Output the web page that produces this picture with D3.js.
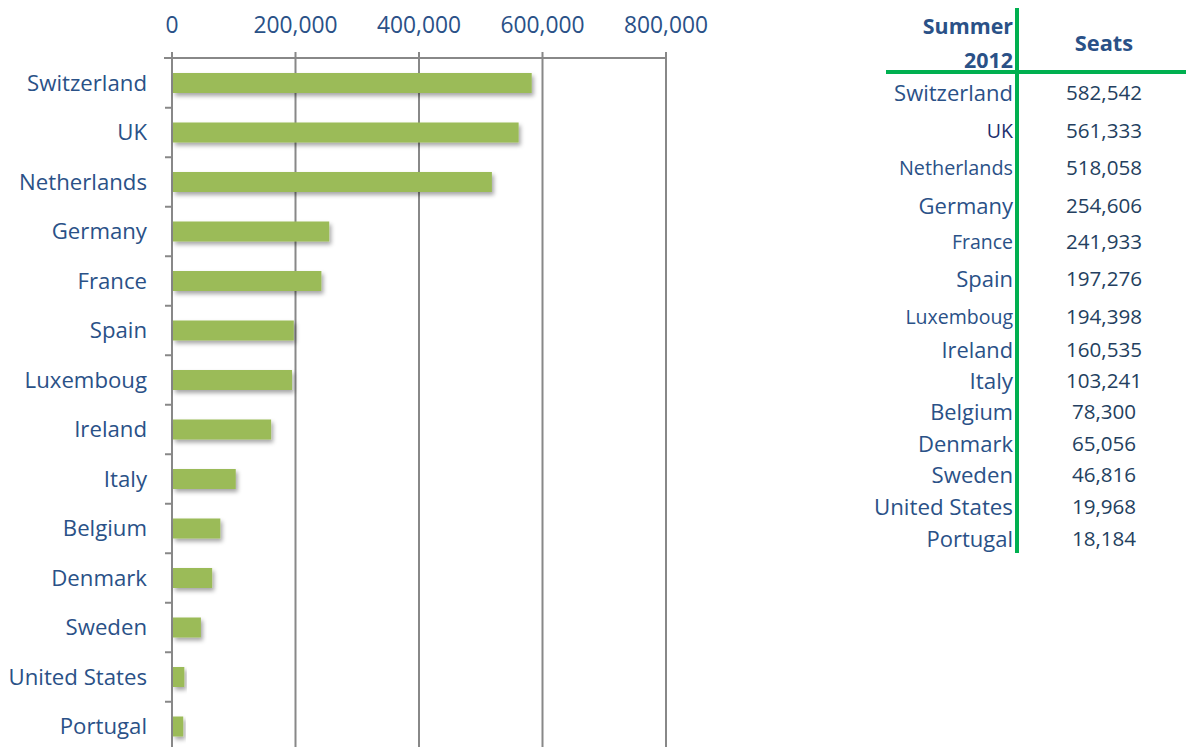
<!DOCTYPE html>
<html><head><meta charset="utf-8">
<script src="https://cdn.jsdelivr.net/npm/d3@7"></script>
<style>body{margin:0;background:#fff}svg{display:block}text{font-family:"Open Sans",sans-serif}</style>
</head><body><svg id="c" width="1186" height="747"></svg>
<script>
const countries = ["Switzerland","UK","Netherlands","Germany","France","Spain","Luxemboug","Ireland","Italy","Belgium","Denmark","Sweden","United States","Portugal"];
const seats = [582542,561333,518058,254606,241933,197276,194398,160535,103241,78300,65056,46816,19968,18184];
const xTicks = [0,200000,400000,600000,800000];
const tableHeader = ["Summer","2012","Seats"];
const tableRowY = [93,131,168,206,242,279,317,350,381,412,444,475,507,539];
const tableNameSize = [22,19.5,19.8,22,19.5,22,19.5,21.8,22.4,21.8,22,22.2,22.3,22];

const svg = d3.select("#c");
const blue = "#2a5187";
const defs = svg.append("defs");
const f = defs.append("filter").attr("id","sh").attr("x","-10%").attr("y","-30%").attr("width","130%").attr("height","190%");
f.append("feDropShadow").attr("dx",2).attr("dy",3).attr("stdDeviation",2).attr("flood-color","#000").attr("flood-opacity",0.35);

const x = d3.scaleLinear().domain([0,800000]).range([172,666]);
const y = d3.scaleBand().domain(countries).range([58.25,58.25+49.5*14]).paddingInner(0).paddingOuter(0);

// gridlines
svg.append("g").selectAll("line").data(xTicks.slice(1)).join("line")
  .attr("x1",d=>x(d)).attr("x2",d=>x(d)).attr("y1",52).attr("y2",747)
  .attr("stroke","#888").attr("stroke-width",2);
// top axis line
svg.append("line").attr("x1",164).attr("x2",x(800000)+1).attr("y1",58).attr("y2",58).attr("stroke","#888").attr("stroke-width",2);
// left axis line
svg.append("line").attr("x1",x(0)).attr("x2",x(0)).attr("y1",52).attr("y2",747).attr("stroke","#888").attr("stroke-width",2);
// left ticks at band boundaries
svg.append("g").selectAll("line").data(countries.slice(1)).join("line")
  .attr("x1",165).attr("x2",x(0)).attr("y1",d=>y(d)).attr("y2",d=>y(d))
  .attr("stroke","#888").attr("stroke-width",2);

// x tick labels
const fmt = d3.format(",");
svg.append("g").selectAll("text").data(xTicks).join("text")
  .attr("x",d=>x(d)).attr("y",33).attr("text-anchor","middle")
  .attr("fill",blue).attr("font-size",22.8).text(d=>fmt(d));

// bars
svg.append("g").selectAll("rect").data(countries).join("rect")
  .attr("x",x(0)+1).attr("y",d=>y(d)+y.bandwidth()/2-10)
  .attr("width",(d,i)=>x(seats[i])-x(0)-1).attr("height",20)
  .attr("fill","#9bbb59").attr("filter","url(#sh)");

// category labels
svg.append("g").selectAll("text").data(countries).join("text")
  .attr("x",147).attr("y",d=>y(d)+y.bandwidth()/2).attr("dy","0.35em")
  .attr("text-anchor","end").attr("fill",blue).attr("font-size",22.2).text(d=>d);

// table
const green = "#00b050";
svg.append("line").attr("x1",1017).attr("x2",1017).attr("y1",8).attr("y2",553).attr("stroke",green).attr("stroke-width",4);
svg.append("line").attr("x1",886).attr("x2",1186).attr("y1",72).attr("y2",72).attr("stroke",green).attr("stroke-width",4);
svg.append("text").attr("x",1013).attr("y",34).attr("text-anchor","end").attr("font-weight","bold").attr("font-size",21.4).attr("fill",blue).text(tableHeader[0]);
svg.append("text").attr("x",1013).attr("y",68).attr("text-anchor","end").attr("font-weight","bold").attr("font-size",21.4).attr("fill",blue).text(tableHeader[1]);
svg.append("text").attr("x",1104).attr("y",51).attr("text-anchor","middle").attr("font-weight","bold").attr("font-size",21.8).attr("fill",blue).text(tableHeader[2]);
svg.append("g").selectAll("text").data(countries).join("text")
  .attr("x",1013).attr("y",(d,i)=>tableRowY[i]).attr("dy","0.35em").attr("text-anchor","end")
  .attr("font-size",(d,i)=>tableNameSize[i]).attr("fill",(d,i)=>i===1?"#1c2f6e":blue).text(d=>d);
svg.append("g").selectAll("text").data(seats).join("text")
  .attr("x",1104).attr("y",(d,i)=>tableRowY[i]).attr("dy","0.35em").attr("text-anchor","middle")
  .attr("font-size",20.6).attr("fill","#243f60").text(d=>fmt(d));
</script></body></html>
